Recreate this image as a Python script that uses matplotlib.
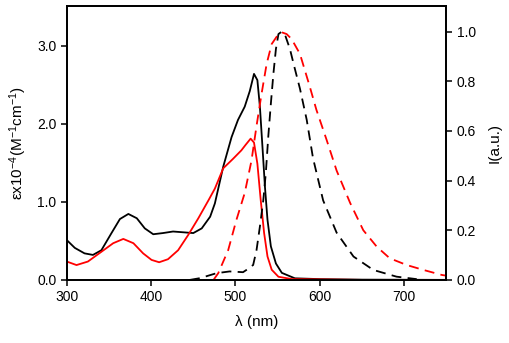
import matplotlib
matplotlib.use("Agg")
import matplotlib.pyplot as plt

plt.rcParams["font.family"] = ["Liberation Sans", "DejaVu Sans"]
plt.rcParams["mathtext.default"] = "regular"

# absorption (left axis, eps x 10^-4)
abs_black_x = [300, 309.5, 321, 331, 341, 353, 363, 373, 383, 392.5, 402.5, 414, 426, 438,
               450, 460, 470, 475.6, 485.5, 495.4, 503, 511, 517, 522, 526, 529, 532, 535,
               538, 542, 548, 555, 570.5, 600, 650, 750]
abs_black_y = [0.51, 0.41, 0.34, 0.32, 0.38, 0.60, 0.78, 0.845, 0.79, 0.66, 0.585, 0.60,
               0.62, 0.61, 0.60, 0.66, 0.81, 0.98, 1.45, 1.83, 2.05, 2.22, 2.42, 2.64, 2.56,
               2.22, 1.71, 1.19, 0.77, 0.43, 0.21, 0.09, 0.02, 0.01, 0.003, 0.0]

abs_red_x = [300, 311.5, 325, 341, 355, 367, 379, 390.5, 400.5, 409.5, 420, 432, 444, 456,
             468, 475.6, 485.5, 497, 507, 512, 518, 522, 526, 530, 534, 538, 543, 551, 567,
             650, 750]
abs_red_y = [0.235, 0.19, 0.235, 0.36, 0.47, 0.525, 0.47, 0.34, 0.256, 0.226, 0.265, 0.38,
             0.576, 0.79, 1.02, 1.17, 1.43, 1.55, 1.66, 1.73, 1.81, 1.76, 1.49, 1.02, 0.60,
             0.30, 0.13, 0.04, 0.01, 0.0, 0.0]

# emission (right axis, normalised)
em_black_x = [446, 458, 477.6, 493, 509, 513, 521, 525, 529, 533, 536, 539, 542, 545, 548,
              551, 555, 559.5, 564.6, 569.7, 576.5, 584.5, 592, 604, 620, 640, 663.5, 691,
              715]
em_black_y = [0.0, 0.007, 0.027, 0.034, 0.031, 0.04, 0.06, 0.12, 0.215, 0.32, 0.43, 0.58,
              0.71, 0.83, 0.93, 0.99, 1.0, 0.98, 0.93, 0.86, 0.77, 0.645, 0.49, 0.32, 0.19,
              0.094, 0.04, 0.013, 0.003]

em_red_x = [474, 479.6, 491.4, 501, 511, 519, 525, 531, 537, 543, 549, 555, 560.7, 566.6,
            576.5, 588, 596, 608, 620, 636, 651.6, 667.5, 683, 703, 723, 744.6, 750]
em_red_y = [0.0, 0.027, 0.12, 0.24, 0.35, 0.48, 0.62, 0.75, 0.87, 0.95, 0.98, 0.997, 0.99,
            0.97, 0.91, 0.78, 0.685, 0.565, 0.44, 0.31, 0.20, 0.134, 0.087, 0.06, 0.04,
            0.02, 0.017]

fig = plt.figure(figsize=(5.1, 3.43), dpi=100)
ax = fig.add_axes([0.131, 0.184, 0.744, 0.7985])
ax2 = ax.twinx()

ax.plot(abs_black_x, abs_black_y, color="black", lw=1.3)
ax.plot(abs_red_x, abs_red_y, color="red", lw=1.3)
ax2.plot(em_black_x, em_black_y, color="black", lw=1.3, linestyle=(0, (5.5, 3.5)))
ax2.plot(em_red_x, em_red_y, color="red", lw=1.3, linestyle=(0, (5.5, 3.5)))

ax.set_xlim(300, 750)
ax.set_ylim(0, 3.51)
ax2.set_ylim(0, 1.103)

ax.set_xticks([300, 400, 500, 600, 700])
ax.set_yticks([0, 1, 2, 3])
ax.set_yticklabels(["0.0", "1.0", "2.0", "3.0"])
ax2.set_yticks([0, 0.2, 0.4, 0.6, 0.8, 1.0])
ax2.set_yticklabels(["0.0", "0.2", "0.4", "0.6", "0.8", "1.0"])

for a in (ax, ax2):
    for s in a.spines.values():
        s.set_linewidth(1.3)
    a.tick_params(direction="out", length=4, width=1.1, labelsize=10)

ax.set_xlabel("λ (nm)", fontsize=11, labelpad=8)
ax.set_ylabel(r"εx10$^{-4}$(M$^{-1}$cm$^{-1}$)", fontsize=11, labelpad=6)
ax2.set_ylabel("I(a.u.)", fontsize=11, labelpad=8)

fig.savefig("out.png", dpi=100)
